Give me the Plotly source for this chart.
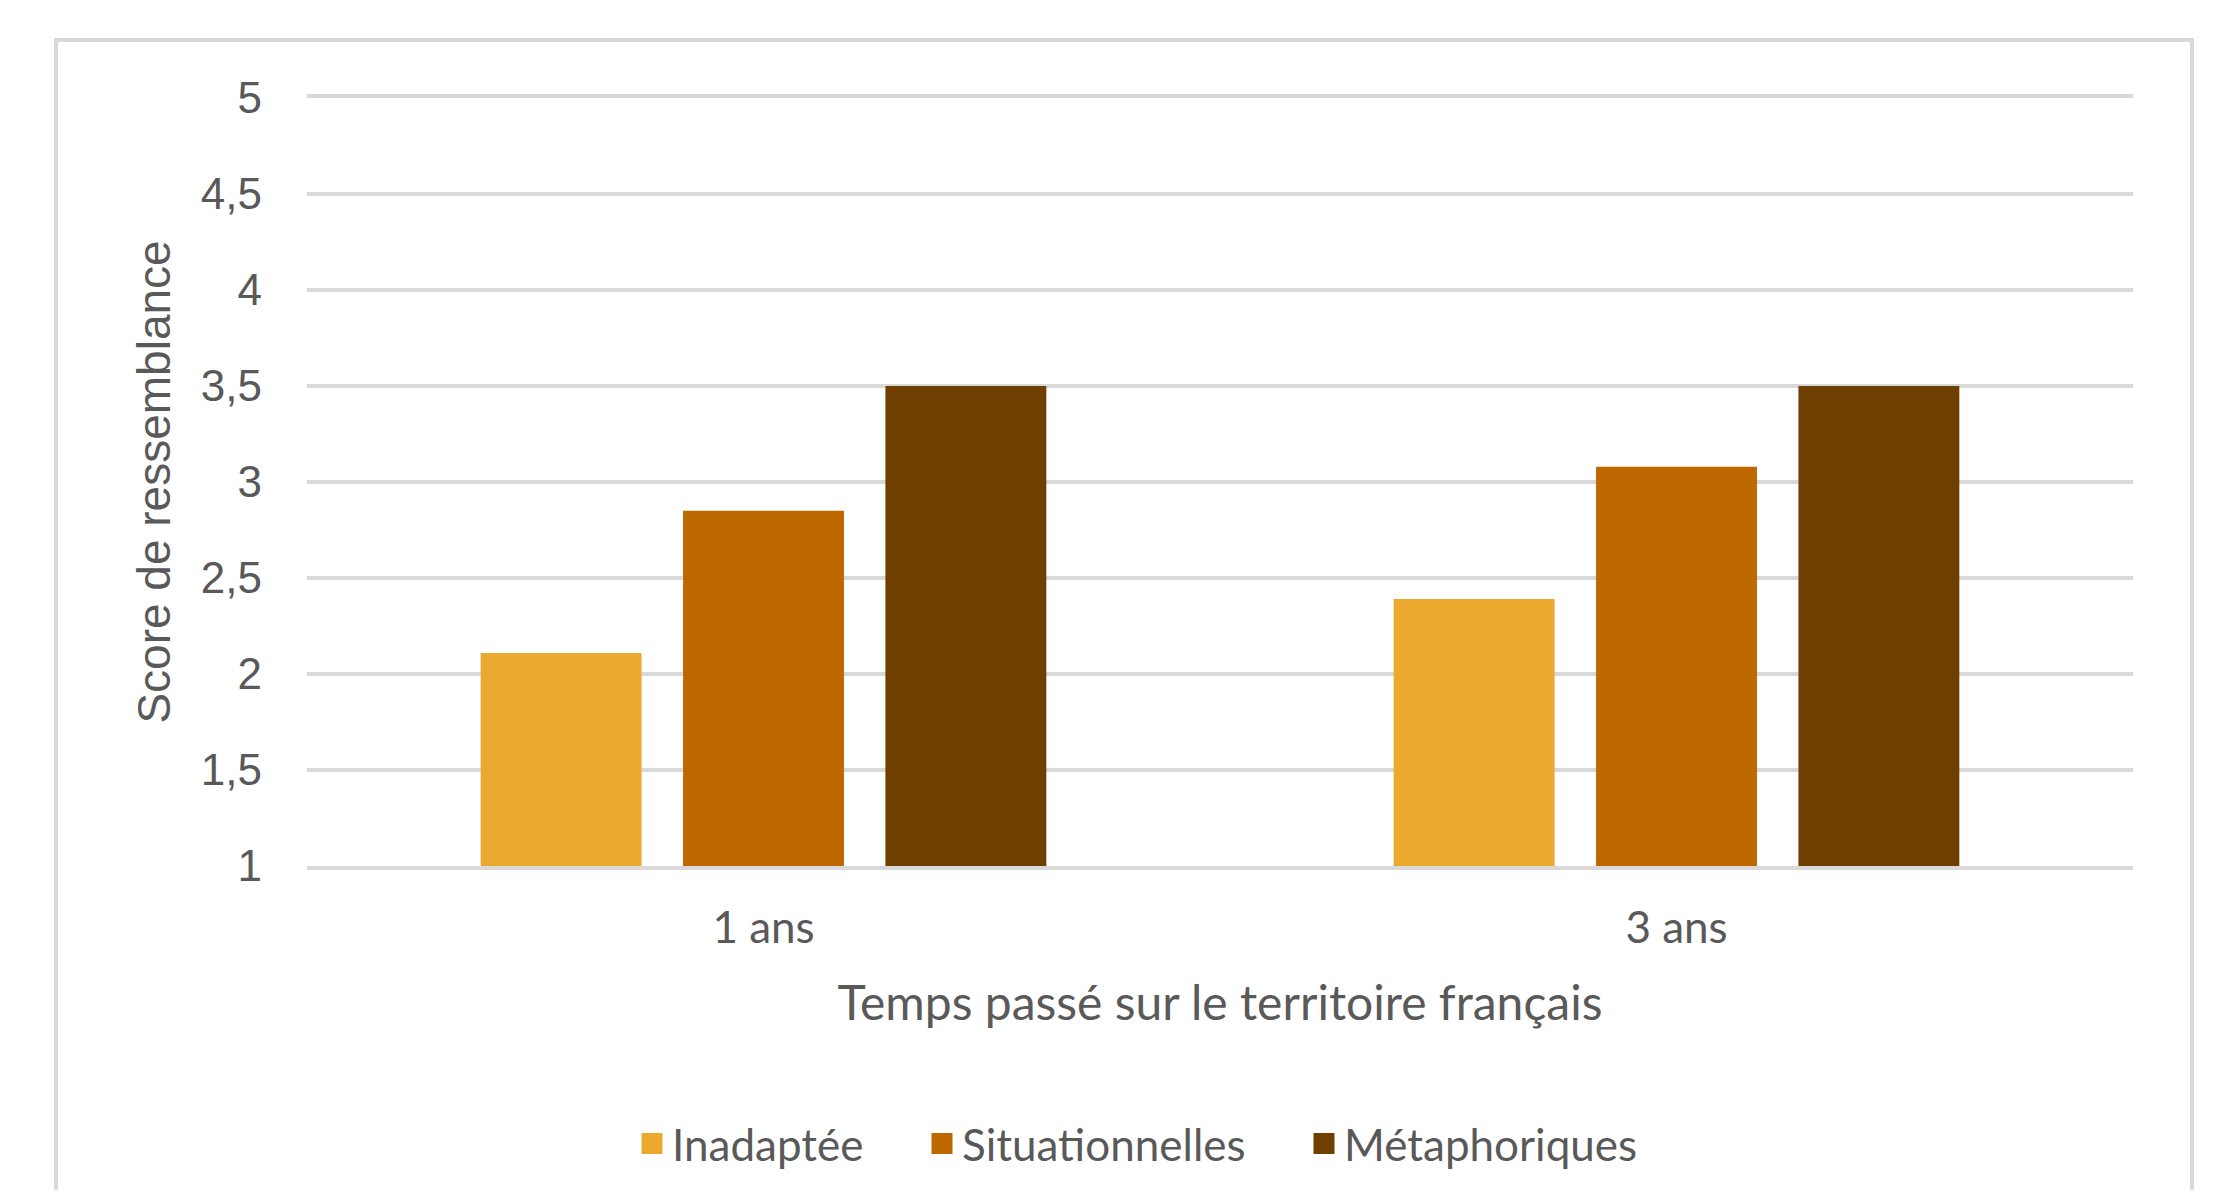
import plotly.graph_objects as go

categories = ["1 ans", "3 ans"]
series_names = ["Inadaptée", "Situationnelles", "Métaphoriques"]
inadaptee = [2.11, 2.39]
situationnelles = [2.85, 3.08]
metaphoriques = [3.5, 3.5]
series_values = [inadaptee, situationnelles, metaphoriques]
colors = ["#EBA930", "#BE6900", "#6F3F00"]
y_tickvals = [1, 1.5, 2, 2.5, 3, 3.5, 4, 4.5, 5]
y_ticktext = ["1", "1,5", "2", "2,5", "3", "3,5", "4", "4,5", "5"]

OFF = 8  # default page body margin
W, H = 2221 - 2 * OFF, 1198 - 2 * OFF
L, T = 307 - OFF, 98 - OFF
pw, ph = 1826, 768
R, B = W - L - pw, H - T - ph


def px_x(X):
    return (X - OFF - L) / pw


def px_y(Y):
    return (T + ph - (Y - OFF)) / ph


text_font = "Lato"
gray = "#595959"
legend_names = ["legend", "legend2", "legend3"]
legend_starts = [638, 928, 1310]

fig = go.Figure()
for name, vals, col, lg in zip(series_names, series_values, colors, legend_names):
    fig.add_trace(go.Bar(x=categories, y=vals, name=name, legendgroup=name,
                         showlegend=False,
                         marker=dict(color=col, line=dict(width=0))))
    fig.add_trace(go.Scatter(x=[None], y=[None], name=name, legendgroup=name,
                             mode="markers", legend=lg, showlegend=True,
                             marker=dict(symbol="square", size=16, color=col,
                                         line=dict(color=col, width=5))))

legend_common = dict(orientation="h", yanchor="middle", xanchor="left",
                     itemsizing="trace", bgcolor="rgba(0,0,0,0)",
                     font=dict(family=text_font, size=44, color=gray))
legends = {}
for lg, xs in zip(legend_names, legend_starts):
    legends[lg] = dict(legend_common, x=px_x(xs - 6), y=px_y(1144))

fig.update_layout(
    width=W, height=H,
    margin=dict(l=L, r=R, t=T, b=B, autoexpand=False),
    paper_bgcolor="white", plot_bgcolor="white",
    barmode="group", bargap=0.335, bargroupgap=0.205,
    showlegend=True,
    xaxis=dict(showgrid=False, showline=True, mirror=True,
               linecolor="#D9D9D9", linewidth=4, ticks="",
               ticklabelstandoff=20,
               tickfont=dict(family=text_font, size=44, color=gray),
               title=dict(text="Temps passé sur le territoire français",
                          font=dict(family=text_font, size=48, color=gray),
                          standoff=37)),
    yaxis=dict(range=[1, 5], tickvals=y_tickvals, ticktext=y_ticktext,
               showgrid=True, gridcolor="#D9D9D9", gridwidth=4,
               zeroline=False, showline=False, ticks="",
               ticklabelstandoff=44,
               tickfont=dict(family="Liberation Sans", size=44, color=gray),
               title=dict(text="Score de ressemblance",
                          font=dict(family="Liberation Sans", size=46, color=gray),
                          standoff=15)),
    shapes=[dict(type="rect", xref="paper", yref="paper",
                 x0=px_x(56), x1=px_x(2192), y0=px_y(1260), y1=px_y(40),
                 line=dict(color="#D9D9D9", width=4), fillcolor="rgba(0,0,0,0)",
                 layer="below")],
    **legends,
)

fig.write_html("out.html")
